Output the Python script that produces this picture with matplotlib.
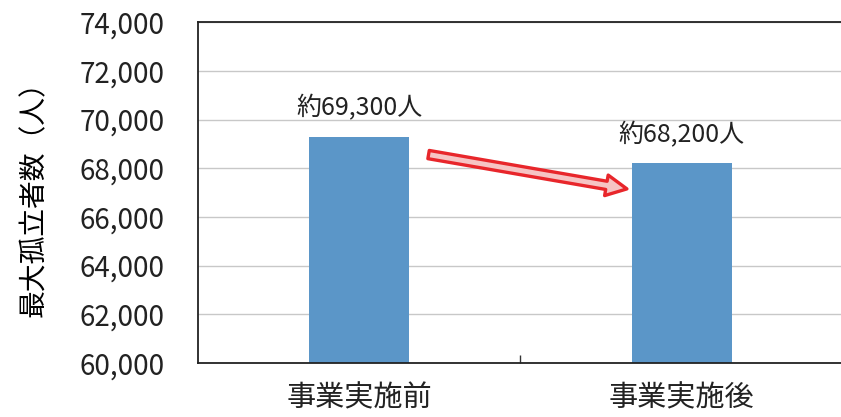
import matplotlib
matplotlib.use("Agg")
import matplotlib.pyplot as plt
from matplotlib.ticker import FuncFormatter

plt.rcParams["font.family"] = ["Noto Sans CJK JP", "DejaVu Sans"]

categories = ["事業実施前", "事業実施後"]
values = [69300, 68200]
value_labels = ["約69,300人", "約68,200人"]
yticks = list(range(60000, 74001, 2000))

fig = plt.figure(figsize=(8.41, 4.17), dpi=100)
ax = fig.add_axes([0.2354, 0.1295, 0.767, 0.8175])

x = range(len(categories))
ax.bar(x, values, width=0.31, color="#5B96C8", zorder=2)
ax.set_xlim(-0.5, 1.5)
ax.set_ylim(60000, 74000)
ax.set_yticks(yticks)
ax.yaxis.set_major_formatter(FuncFormatter(lambda v, p: f"{int(v):,}"))
ax.tick_params(axis="y", length=0, labelsize=20, pad=24, colors="#222222")
ax.set_xticks(list(x))
ax.set_xticklabels(categories, fontsize=21, color="#222222")
ax.tick_params(axis="x", length=0, pad=15)
# category separator tick
ax.set_xticks([0.5], minor=True)
ax.tick_params(axis="x", which="minor", direction="in", length=6, width=1, color="#333333")
ax.grid(axis="y", color="#C8C8C8", lw=1, zorder=0)
for s in ["left", "top", "bottom"]:
    ax.spines[s].set_color("#222222")
    ax.spines[s].set_linewidth(1.3)
ax.spines["right"].set_visible(False)

for i, (v, lab) in enumerate(zip(values, value_labels)):
    ax.text(i, v + 620, lab, ha="center", va="bottom", fontsize=18, color="#222222")

ax.set_ylabel("最大孤立者数（人）", fontsize=20, labelpad=22)

# decreasing arrow
ax.annotate("", xy=(0.83, 67150), xytext=(0.215, 68560),
            arrowprops=dict(arrowstyle="simple,head_width=1.5,tail_width=0.6,head_length=1.5",
                            fc="#F6C4C4", ec="#E8262B", lw=2.4, shrinkA=0, shrinkB=0),
            zorder=5)

fig.savefig("out.png", dpi=100)
